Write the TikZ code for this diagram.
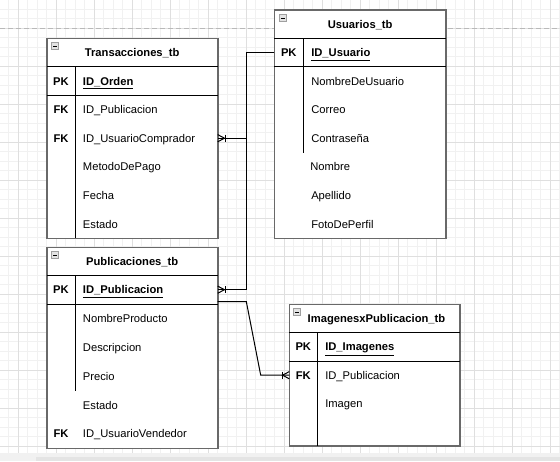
\documentclass[tikz,border=0pt]{standalone}
\usepackage{fontspec}
\setmainfont{Liberation Sans}
\usetikzlibrary{fit,calc}
\definecolor{gridminor}{RGB}{241,241,241}
\definecolor{gridmajor}{RGB}{223,223,223}
\definecolor{bordergray}{RGB}{105,105,105}
\definecolor{pagebreak}{RGB}{185,185,185}
\definecolor{barlight}{RGB}{241,241,241}
\definecolor{bardark}{RGB}{228,228,228}
\newcommand\tblfont{\fontsize{8.4pt}{10pt}\selectfont}
\begin{document}
\begin{tikzpicture}[x=0.75pt,y=-0.75pt,
  tblbox/.style={draw=bordergray, line width=1.2pt, fill=white, inner sep=0pt, outer sep=0pt},
  innerline/.style={draw=black, line width=0.75pt},
  txt/.style={inner sep=0pt, text height=7pt, text depth=1pt},
  ttl/.style={txt, font=\tblfont\bfseries, anchor=center},
  keytxt/.style={txt, font=\tblfont\bfseries, anchor=center},
  fld/.style={txt, font=\tblfont, anchor=west},
  pkfld/.style={txt, font=\tblfont\bfseries, anchor=west},
  conn/.style={draw=black, line width=0.75pt},
  crowfoot/.pic={\draw[conn] (0,-3.6) -- (6.8,0) -- (0,3.6);
                 \draw[conn] (7.3,-3.6) -- (7.3,3.6);},
  minusicon/.pic={\draw[draw=gray!75, fill=gray!22, line width=0.5pt] (0,0) rectangle (7,7);
                  \draw[black, line width=0.6pt] (1.5,3.5) -- (5.5,3.5);}
]
\useasboundingbox (0,0) rectangle (560,461);
\fill[white] (0,0) rectangle (560,461);
% grid
\foreach \i in {0,...,58} { \draw[gridminor, line width=0.75pt] ({8.8+9.5*\i},0) -- ({8.8+9.5*\i},453.3); }
\foreach \j in {0,...,46} { \draw[gridminor, line width=0.75pt] (0,{9.3+9.5*\j}) -- (560,{9.3+9.5*\j}); }
\foreach \i in {0,...,14} { \draw[gridmajor, line width=0.75pt] ({18.3+38*\i},0) -- ({18.3+38*\i},453.3); }
\foreach \j in {0,...,11} { \draw[gridmajor, line width=0.75pt] (0,{28.3+38*\j}) -- (560,{28.3+38*\j}); }
% page break line
\draw[pagebreak, line width=0.75pt, dash pattern=on 4 off 2] (0,28.3) -- (560,28.3);
% bottom bar
\fill[barlight] (0,453.3) rectangle (560,461);
\fill[bardark] (36,456.7) rectangle (560,461);

% ---------- Transacciones_tb ----------
\node[tblbox, fit={(46.7,38.3) (217.7,238.3)}] (T) {};
\draw[innerline] (T.west |- 0,66.7) -- (T.east |- 0,66.7);
\draw[innerline] (T.west |- 0,95.3) -- (T.east |- 0,95.3);
\draw[innerline] (75.3,66.7) -- (75.3,238.3);
\pic at ($(T.north west)+(5,4.5)$) {minusicon};
\node[ttl] (Tt) at (132.2,52.5) {Transacciones\_tb};
\node[keytxt] (tPKk) at (61,81) {PK};
\node[pkfld] (tPK) at (82.7,81) {\underline{ID\_Orden}};
\node[keytxt] (tFK1k) at (61,109.6) {FK};
\node[fld] (tPub) at (82.7,109.6) {ID\_Publicacion};
\node[keytxt] (tFK2k) at (61,138.2) {FK};
\node[fld] (tUC) at (82.7,138.2) {ID\_UsuarioComprador};
\node[fld] (tMP) at (82.7,166.8) {MetodoDePago};
\node[fld] (tFe) at (82.7,195.4) {Fecha};
\node[fld] (tEs) at (82.7,224) {Estado};

% ---------- Usuarios_tb ----------
\node[tblbox, fit={(274.3,10) (446,238.3)}] (U) {};
\draw[innerline] (U.west |- 0,38.3) -- (U.east |- 0,38.3);
\draw[innerline] (U.west |- 0,66.7) -- (U.east |- 0,66.7);
\draw[innerline] (303.3,38.3) -- (303.3,152.6);
\pic at ($(U.north west)+(5,4.5)$) {minusicon};
\node[ttl] (Ut) at (360.2,24.2) {Usuarios\_tb};
\node[keytxt] (uPKk) at (288.8,52.6) {PK};
\node[pkfld] (uPK) at (311,52.6) {\underline{ID\_Usuario}};
\node[fld] (uND) at (311,81.1) {NombreDeUsuario};
\node[fld] (uCo) at (311,109.7) {Correo};
\node[fld] (uCt) at (311,138.3) {Contraseña};
\node[fld] (uNo) at (310,166.9) {Nombre};
\node[fld] (uAp) at (311,195.4) {Apellido};
\node[fld] (uFo) at (311,224) {FotoDePerfil};

% ---------- Publicaciones_tb ----------
\node[tblbox, fit={(46.7,247.3) (217.7,448.3)}] (P) {};
\draw[innerline] (P.west |- 0,275.3) -- (P.east |- 0,275.3);
\draw[innerline] (P.west |- 0,304.2) -- (P.east |- 0,304.2);
\draw[innerline] (75.3,275.3) -- (75.3,390.6);
\pic at ($(P.north west)+(5,4.5)$) {minusicon};
\node[ttl] (Pt) at (132.2,261.3) {Publicaciones\_tb};
\node[keytxt] (pPKk) at (61,289.7) {PK};
\node[pkfld] (pPK) at (82.7,289.7) {\underline{ID\_Publicacion}};
\node[fld] (pNP) at (82.7,318.6) {NombreProducto};
\node[fld] (pDe) at (82.7,347.4) {Descripcion};
\node[fld] (pPr) at (82.7,376.2) {Precio};
\node[fld] (pEs) at (82.7,405.1) {Estado};
\node[keytxt] (pFKk) at (61,433.9) {FK};
\node[fld] (pUV) at (82.7,433.9) {ID\_UsuarioVendedor};

% ---------- ImagenesxPublicacion_tb ----------
\node[tblbox, fit={(289.3,304.3) (460,446)}] (I) {};
\draw[innerline] (I.west |- 0,332.7) -- (I.east |- 0,332.7);
\draw[innerline] (I.west |- 0,361) -- (I.east |- 0,361);
\draw[innerline] (317.3,332.7) -- (317.3,446);
\pic at ($(I.north west)+(4,4.5)$) {minusicon};
\node[ttl] (It) at (376.5,318.5) {ImagenesxPublicacion\_tb};
\node[keytxt] (iPKk) at (303.3,346.9) {PK};
\node[pkfld] (iPK) at (325,346.9) {\underline{ID\_Imagenes}};
\node[keytxt] (iFKk) at (303.3,375.2) {FK};
\node[fld] (iFK) at (325,375.2) {ID\_Publicacion};
\node[fld] (iIm) at (325,403.5) {Imagen};

% ---------- connectors ----------
\draw[conn] (U.west |- uPK) -- ++(-28.3,0) |- (T.east |- tUC);
\draw[conn] (U.west |- uPK) -- ++(-28.3,0) |- (P.east |- pPK);
\pic at (T.east |- tUC) {crowfoot};
\pic at (P.east |- pPK) {crowfoot};
\draw[conn] ($(P.east |- pPK)+(0,11.8)$) -- ++(28.6,0)
   -- ($(I.west |- iFK)+(-28.6,0)$) -- (I.west |- iFK);
\pic[xscale=-1] at (I.west |- iFK) {crowfoot};
\end{tikzpicture}
\end{document}
